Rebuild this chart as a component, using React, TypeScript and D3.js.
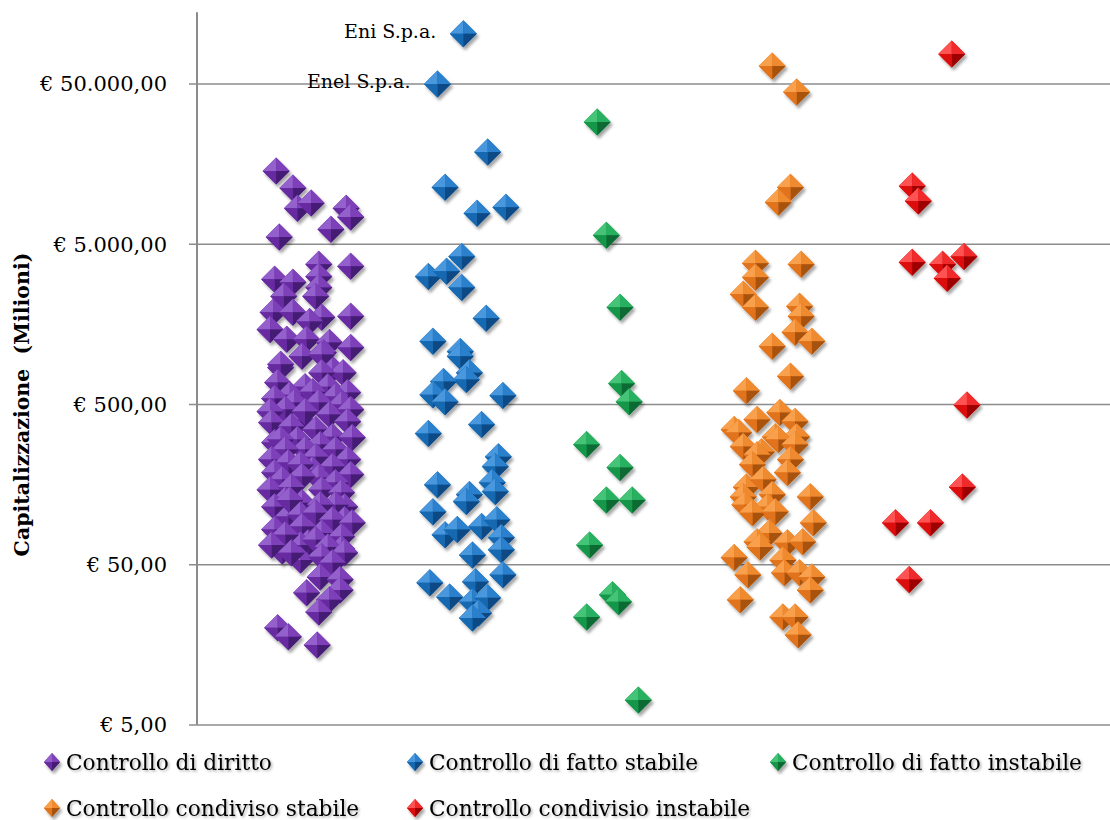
import React from 'react';
import * as d3 from 'd3';

const W = 1110;
const H = 820;

// y axis ticks (Milioni di euro), log scale
const yTicks = [5, 50, 500, 5000, 50000];
const yMax = 140000;

const seriesNames = [
  'Controllo di diritto',
  'Controllo di fatto stabile',
  'Controllo di fatto instabile',
  'Controllo condiviso stabile',
  'Controllo condivisio instabile',
];

// [x jitter position, capitalizzazione (milioni €)]
const controlloDiDiritto: [number, number][] = [
  [0.52, 14300], [0.63, 11200], [0.66, 8400], [0.75, 9050], [0.98, 8400], [1.01, 7400], [0.88, 6200], [0.54, 5550],
  [0.80, 3750], [1.01, 3650], [0.80, 3150], [0.51, 3020], [0.63, 2900], [0.80, 2690], [0.57, 2370], [0.78, 2370],
  [0.50, 1880], [0.63, 1880], [0.82, 1750], [1.01, 1775], [0.74, 1650], [0.48, 1470], [0.59, 1275], [0.72, 1275], [0.87, 1220],
  [1.01, 1135], [0.83, 1055], [0.55, 850], [0.89, 830],
  [0.55, 890], [0.69, 1000], [0.82, 1025], [0.96, 790], [0.82, 790], [0.53, 685], [0.71, 645], [0.86, 645], [0.99, 595],
  [0.61, 575], [0.76, 600], [0.91, 560],
  [0.51, 545], [0.64, 515], [0.80, 515], [0.95, 500], [0.58, 465], [0.87, 433], [0.68, 403],
  [0.48, 452], [0.71, 452], [1.01, 465],
  [0.49, 386], [0.62, 365], [0.78, 349], [0.99, 392], [0.89, 315],
  [0.51, 290], [0.66, 302], [1.02, 311], [0.55, 302], [0.81, 281], [0.71, 262], [0.58, 262], [0.91, 262],
  [0.49, 227], [0.78, 236], [0.99, 227], [0.60, 217], [0.89, 205], [0.76, 196], [0.51, 188], [0.68, 211],
  [1.01, 183], [0.56, 170], [0.80, 175], [0.48, 147],
  [0.69, 178], [0.91, 163], [0.62, 153], [0.82, 147], [0.95, 141], [0.58, 127], [0.51, 115], [0.69, 122], [0.97, 115], [0.91, 118.5], [0.60, 100],
  [0.61, 127], [0.81, 118.5], [0.68, 102.5], [0.97, 95.5],
  [0.78, 105.5], [0.89, 95.5], [1.02, 91.5], [0.51, 83], [0.69, 86.5], [0.82, 79], [0.95, 75], [0.56, 61], [0.73, 68.5], [0.68, 66.5],
  [0.58, 77], [0.78, 71.5], [0.95, 63], [0.49, 66.5], [0.68, 53.5],
  [0.86, 64.5], [0.62, 59.5], [0.82, 56], [0.97, 59.5], [0.89, 51.5],
  [0.81, 42], [0.94, 40.5], [0.72, 33.4], [0.94, 34.8], [0.87, 30.2], [0.80, 25.4], [0.53, 20.2], [0.60, 17.8], [0.79, 15.8],
];

const controlloDiFattoStabile: [number, number][] = [
  [1.75, 103000], [1.58, 50000], [1.91, 18800], [1.63, 11350], [1.84, 7800], [2.03, 8500],
  [1.74, 4200], [1.52, 3150], [1.64, 3390], [1.74, 2690], [1.90, 1725], [1.55, 1240], [1.73, 1070], [1.73, 1000],
  [1.79, 790], [1.77, 715], [1.62, 695], [1.55, 575], [1.63, 520], [2.01, 570],
  [1.52, 330], [1.87, 375], [1.98, 236], [1.96, 205], [1.58, 158], [1.94, 163], [1.79, 137], [1.96, 143],
  [1.55, 107], [1.77, 124], [1.63, 77], [1.71, 83], [1.87, 86.5], [1.97, 95.5], [2.00, 74], [2.00, 62], [1.81, 57.5],
  [1.53, 38.6], [1.83, 39.2], [2.01, 43.3], [1.66, 31.5], [1.81, 29.4], [1.91, 31.1], [1.85, 25], [1.81, 23.3],
];

const controlloDiFattoInstabile: [number, number][] = [
  [2.63, 28950], [2.69, 5690], [2.78, 2020], [2.79, 675], [2.84, 520], [2.56, 281], [2.78, 202],
  [2.69, 127], [2.86, 127], [2.58, 66.5], [2.73, 32.5], [2.77, 29.4], [2.56, 23.6], [2.90, 7.15],
];

const controlloCondivisoStabile: [number, number][] = [
  [3.78, 64800], [3.94, 44550], [3.90, 11350], [3.82, 9150], [3.67, 3800], [3.97, 3750], [3.67, 3110], [3.59, 2435],
  [3.67, 2020], [3.96, 2050], [3.97, 1775], [3.93, 1410], [4.04, 1240], [3.78, 1155], [3.90, 750], [3.61, 610],
  [3.83, 445], [3.68, 403], [3.53, 349], [3.93, 391], [3.94, 315], [3.80, 315], [3.56, 334], [3.59, 273], [3.82, 302],
  [3.93, 281], [3.71, 254], [3.68, 243], [3.90, 227], [3.65, 211], [3.88, 188], [3.61, 153], [3.72, 170], [3.78, 137],
  [3.59, 133], [4.03, 133], [3.60, 118.5], [3.75, 115], [3.65, 105.5], [3.80, 107], [4.05, 91.5], [3.76, 79],
  [3.68, 69.5], [3.88, 68.5], [3.98, 69.5], [3.53, 55.5], [3.70, 64.5], [3.85, 53.5], [3.62, 43.3], [3.86, 44.5],
  [3.96, 44.5], [4.04, 42], [4.03, 34.8], [3.57, 30.2], [3.85, 23.6], [3.93, 23.6], [3.95, 18.3],
];

const controlloCondivisoInstabile: [number, number][] = [
  [4.96, 77000], [4.70, 11550], [4.74, 9300], [4.70, 3860], [4.90, 3750], [5.04, 4200], [4.93, 3065],
  [5.06, 497], [5.03, 153], [4.59, 91.5], [4.82, 91.5], [4.68, 40.5],
];

const annotations: { label: string; x: number; v: number }[] = [
  { label: 'Eni S.p.a.', x: 1.75, v: 103000 },
  { label: 'Enel S.p.a.', x: 1.58, v: 50000 },
];

const allSeries = [
  controlloDiDiritto,
  controlloDiFattoStabile,
  controlloDiFattoInstabile,
  controlloCondivisoStabile,
  controlloCondivisoInstabile,
];

const palettes = [
  { base: '#672ba0', light: '#9460cc', tr: '#7d40b8', dark: '#451b73' },
  { base: '#1668b0', light: '#4a97dc', tr: '#2b80cc', dark: '#0c4a84' },
  { base: '#15964a', light: '#45c477', tr: '#28b05e', dark: '#0b6a33' },
  { base: '#e0731a', light: '#f9a04d', tr: '#f08a2e', dark: '#a85210' },
  { base: '#dc0c0c', light: '#ff5252', tr: '#f02a2a', dark: '#9c0000' },
];

const FONT = '"DejaVu Serif", "Liberation Serif", serif';

function Diamond({ cx, cy, s, sy, pal }: { cx: number; cy: number; s: number; sy?: number; pal: any }) {
  const h = sy ?? s;
  return (
    <g transform={`translate(${cx},${cy})`}>
      <polygon points={`${-s},0 0,${-h} ${s},0 0,${h}`} fill={pal.base} />
      <polygon points={`0,0 ${-s},0 0,${-h}`} fill={pal.light} />
      <polygon points={`0,0 0,${-h} ${s},0`} fill={pal.tr} />
      <polygon points={`0,0 ${s},0 0,${h}`} fill={pal.dark} />
      <polygon points={`0,0 0,${h} ${-s},0`} fill={pal.base} />
    </g>
  );
}

export default function App() {
  const x = d3.scaleLinear().domain([0, 6]).range([197, 1110]);
  const y = d3.scaleLog().domain([5, 50000]).range([725, 84]);
  const loc = d3.formatLocale({ decimal: ',', thousands: '.', grouping: [3], currency: ['€ ', ''] });
  const fmt = loc.format('$,.2f');
  const top = y(yMax);
  const left = x(0);
  const right = x(6);
  const s = 13.5;

  const legendPos = [
    { lx: 52, ly: 762 },
    { lx: 415, ly: 762 },
    { lx: 778, ly: 762 },
    { lx: 52, ly: 808 },
    { lx: 415, ly: 808 },
  ];

  return (
    <svg width={W} height={H} style={{ position: 'absolute', left: 0, top: 0, background: '#fff' }}>
      <defs>
        <filter id="msh" x="-20%" y="-20%" width="140%" height="140%">
          <feDropShadow dx="2" dy="3" stdDeviation="1.8" floodColor="#000" floodOpacity="0.35" />
        </filter>
        <filter id="tsh" x="-5%" y="-20%" width="110%" height="150%">
          <feDropShadow dx="1.5" dy="1.5" stdDeviation="1" floodColor="#000" floodOpacity="0.3" />
        </filter>
      </defs>
      {/* gridlines */}
      {yTicks.map((t) => (
        <g key={t}>
          <line x1={left - 8} x2={right} y1={y(t)} y2={y(t)} stroke="#8c8c8c" strokeWidth={1.5} />
          <text x={167} y={y(t)} dy="0.35em" textAnchor="end" fontFamily={FONT} fontSize={21} fill="#000">
            {fmt(t)}
          </text>
        </g>
      ))}
      <line x1={left} x2={left} y1={top} y2={y(5)} stroke="#8c8c8c" strokeWidth={2} />
      <text
        transform={`translate(29,${(y(5000) + y(50)) / 2}) rotate(-90)`}
        textAnchor="middle"
        fontFamily={FONT}
        fontWeight="bold"
        fontSize={20.5}
        fill="#000"
        style={{ whiteSpace: 'pre' }}
      >
        {'Capitalizzazione  (Milioni)'}
      </text>
      {/* series */}
      {allSeries.map((ser, i) => (
        <g key={i} filter="url(#msh)">
          {ser.map(([xv, v], j) => (
            <Diamond key={j} cx={x(xv)} cy={y(v)} s={s} pal={palettes[i]} />
          ))}
        </g>
      ))}
      {annotations.map((a) => (
        <text key={a.label} x={x(a.x) - 27} y={y(a.v)} dy="0.2em" textAnchor="end" fontFamily={FONT} fontSize={19} fill="#000">
          {a.label}
        </text>
      ))}
      {/* legend */}
      {seriesNames.map((n, i) => (
        <g key={n}>
          <g filter="url(#msh)">
            <Diamond cx={legendPos[i].lx} cy={legendPos[i].ly} s={8} sy={9} pal={palettes[i]} />
          </g>
          <text x={legendPos[i].lx + 14} y={legendPos[i].ly} dy="0.35em" fontFamily={FONT} fontSize={21.7} fill="#000" filter="url(#tsh)">
            {n}
          </text>
        </g>
      ))}
    </svg>
  );
}
